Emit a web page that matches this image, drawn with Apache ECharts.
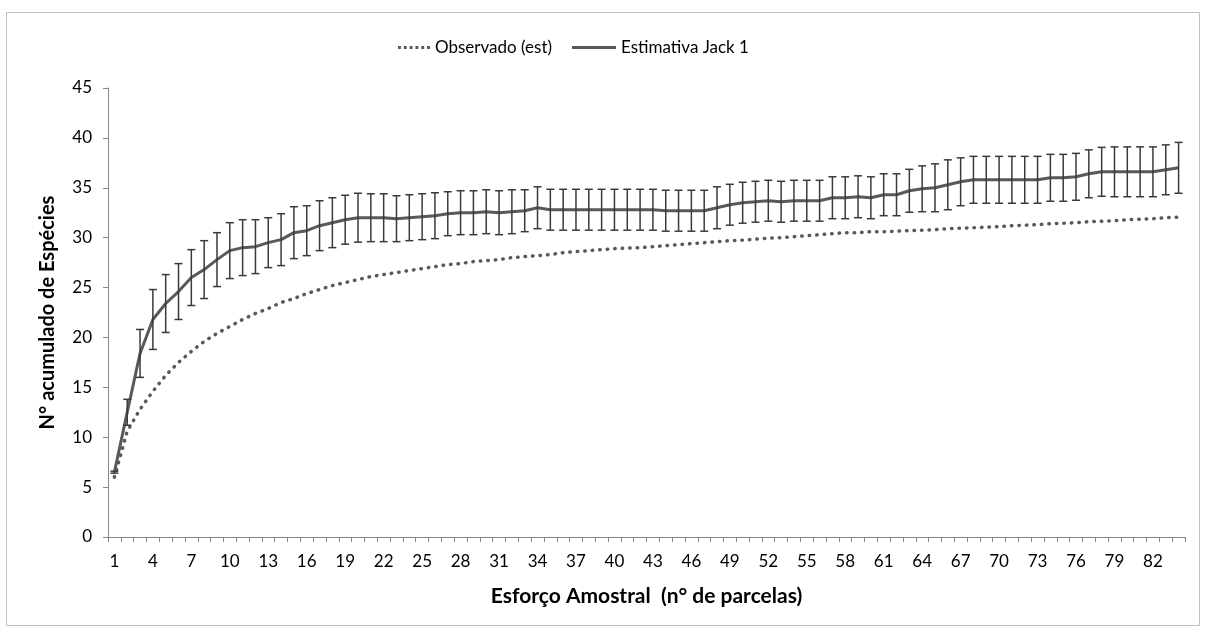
<!DOCTYPE html>
<html>
<head>
<meta charset="utf-8">
<script src="https://cdn.jsdelivr.net/npm/echarts@6/dist/echarts.min.js"></script>
<style>
  html, body { margin: 0; padding: 0; background: #fff; }
  #chart { width: 1206px; height: 632px; }
</style>
</head>
<body>
<div id="chart"></div>
<script>
// Número de parcelas amostradas (1..84)
const parcelas = Array.from({ length: 84 }, (_, i) => String(i + 1));

// Riqueza observada estimada (curva de acumulação)
const observado = [
  6.0, 10.6, 12.8, 14.6, 16.2, 17.5, 18.6, 19.6, 20.4, 21.1,
  21.8, 22.4, 22.9, 23.5, 23.9, 24.4, 24.8, 25.2, 25.5, 25.8,
  26.1, 26.3, 26.5, 26.7, 26.9, 27.1, 27.3, 27.4, 27.6, 27.7,
  27.8, 28.0, 28.1, 28.2, 28.3, 28.5, 28.6, 28.7, 28.8, 28.9,
  28.95, 29.0, 29.1, 29.2, 29.3, 29.4, 29.5, 29.6, 29.7, 29.75,
  29.85, 29.95, 30.0, 30.1, 30.2, 30.3, 30.4, 30.5, 30.5, 30.6,
  30.6, 30.65, 30.7, 30.75, 30.8, 30.9, 30.95, 31.0, 31.05, 31.1,
  31.2, 31.25, 31.3, 31.4, 31.45, 31.5, 31.6, 31.65, 31.7, 31.8,
  31.85, 31.9, 32.0, 32.05
];

// Estimativa Jackknife de 1ª ordem (média)
const jack1 = [
  6.5, 12.5, 18.4, 21.8, 23.4, 24.6, 26.0, 26.8, 27.8, 28.7,
  29.0, 29.1, 29.5, 29.8, 30.5, 30.7, 31.2, 31.5, 31.8, 32.0,
  32.0, 32.0, 31.9, 32.0, 32.1, 32.2, 32.4, 32.5, 32.5, 32.6,
  32.5, 32.6, 32.7, 33.0, 32.8, 32.8, 32.8, 32.8, 32.8, 32.8,
  32.8, 32.8, 32.8, 32.7, 32.7, 32.7, 32.7, 33.0, 33.3, 33.5,
  33.6, 33.7, 33.6, 33.7, 33.7, 33.7, 34.0, 34.0, 34.1, 34.0,
  34.3, 34.3, 34.7, 34.9, 35.0, 35.3, 35.6, 35.8, 35.8, 35.8,
  35.8, 35.8, 35.8, 36.0, 36.0, 36.1, 36.4, 36.6, 36.6, 36.6,
  36.6, 36.6, 36.8, 37.0
];

// Desvio padrão da estimativa Jack 1 (barras de erro)
const jack1DP = [
  0.1, 1.3, 2.4, 3.0, 2.9, 2.8, 2.8, 2.9, 2.7, 2.8,
  2.8, 2.7, 2.5, 2.6, 2.6, 2.5, 2.5, 2.5, 2.45, 2.45,
  2.4, 2.4, 2.3, 2.3, 2.3, 2.3, 2.2, 2.2, 2.2, 2.2,
  2.2, 2.2, 2.1, 2.1, 2.05, 2.05, 2.05, 2.05, 2.05, 2.05,
  2.05, 2.05, 2.05, 2.05, 2.05, 2.05, 2.05, 2.1, 2.05, 2.05,
  2.05, 2.05, 2.05, 2.05, 2.05, 2.05, 2.1, 2.1, 2.1, 2.1,
  2.1, 2.1, 2.15, 2.3, 2.4, 2.5, 2.4, 2.35, 2.35, 2.35,
  2.35, 2.35, 2.35, 2.35, 2.35, 2.35, 2.4, 2.45, 2.5, 2.5,
  2.5, 2.5, 2.5, 2.55
];

const yTicks = { min: 0, max: 45, interval: 5 };

const FONT = 'Lato, "Open Sans", sans-serif';
const AXIS_GRAY = '#868686';
const LINE_GRAY = '#595959';

// Legend icons: a row of dots and a solid bar
const ICON_DOTS = 'path://M0,0h3v3h-3z M6,0h3v3h-3z M12,0h3v3h-3z M18,0h3v3h-3z M24,0h3v3h-3z M30,0h3v3h-3z';
const ICON_SOLID = 'path://M0,0h44v3h-44z';

const errorData = jack1.map((v, i) => [i, v - jack1DP[i], v + jack1DP[i]]);

const legendText = { fontFamily: FONT, fontSize: 17, color: '#000' };

const chart = echarts.init(document.getElementById('chart'), null, { renderer: 'canvas' });

chart.setOption({
  backgroundColor: '#ffffff',
  animation: false,
  graphic: [{
    type: 'rect',
    shape: { x: 6.5, y: 12.5, width: 1193, height: 613 },
    style: { fill: 'none', stroke: '#bfbfbf', lineWidth: 1 },
    silent: true,
    z: -1
  }],
  legend: [
    {
      top: 34, left: 393,
      itemWidth: 32, itemHeight: 3, itemGap: 0,
      textStyle: legendText,
      data: [{ name: 'Observado (est)', icon: ICON_DOTS, itemStyle: { color: LINE_GRAY } }]
    },
    {
      top: 34, left: 567,
      itemWidth: 44, itemHeight: 3, itemGap: 0,
      textStyle: legendText,
      data: [{ name: 'Estimativa Jack 1', icon: ICON_SOLID, itemStyle: { color: LINE_GRAY } }]
    }
  ],
  grid: { left: 108, right: 21, top: 88, bottom: 95, containLabel: false },
  xAxis: {
    type: 'category',
    data: parcelas,
    boundaryGap: true,
    name: 'Esforço Amostral  (n° de parcelas)',
    nameLocation: 'middle',
    nameGap: 49,
    nameTextStyle: { fontFamily: FONT, fontSize: 21, fontWeight: 'bold', color: '#000' },
    axisLine: { lineStyle: { color: AXIS_GRAY, width: 1 } },
    axisTick: { show: true, interval: 0, length: 5, lineStyle: { color: AXIS_GRAY } },
    axisLabel: { interval: 2, fontFamily: FONT, fontSize: 17, color: '#000', margin: 16 },
    splitLine: { show: false }
  },
  yAxis: {
    type: 'value',
    min: yTicks.min,
    max: yTicks.max,
    interval: yTicks.interval,
    name: 'N° acumulado de Espécies',
    nameLocation: 'middle',
    nameGap: 50,
    nameRotate: 90,
    nameTextStyle: { fontFamily: FONT, fontSize: 20, fontWeight: 'bold', color: '#000' },
    axisLine: { show: true, lineStyle: { color: AXIS_GRAY, width: 1 } },
    axisTick: { show: true, length: 5, lineStyle: { color: AXIS_GRAY } },
    axisLabel: { fontFamily: FONT, fontSize: 17, color: '#000', margin: 16 },
    splitLine: { show: false }
  },
  series: [
    {
      name: 'Observado (est)',
      type: 'line',
      data: observado,
      symbol: 'none',
      color: LINE_GRAY,
      lineStyle: { color: LINE_GRAY, width: 3.5, type: [0.5, 7], cap: 'round' },
      z: 2
    },
    {
      name: 'Estimativa Jack 1',
      type: 'line',
      data: jack1,
      symbol: 'none',
      color: LINE_GRAY,
      lineStyle: { color: LINE_GRAY, width: 3 },
      z: 3
    },
    {
      name: 'erro',
      type: 'custom',
      data: errorData,
      encode: { x: 0, y: [1, 2] },
      z: 4,
      renderItem: function (params, api) {
        const xi = api.value(0);
        const lo = api.coord([xi, api.value(1)]);
        const hi = api.coord([xi, api.value(2)]);
        const half = 4;
        const style = { stroke: '#3a3a3a', lineWidth: 1.5 };
        return {
          type: 'group',
          children: [
            { type: 'line', shape: { x1: lo[0], y1: lo[1], x2: hi[0], y2: hi[1] }, style: style },
            { type: 'line', shape: { x1: lo[0] - half, y1: lo[1], x2: lo[0] + half, y2: lo[1] }, style: style },
            { type: 'line', shape: { x1: hi[0] - half, y1: hi[1], x2: hi[0] + half, y2: hi[1] }, style: style }
          ]
        };
      }
    }
  ]
});
</script>
</body>
</html>
